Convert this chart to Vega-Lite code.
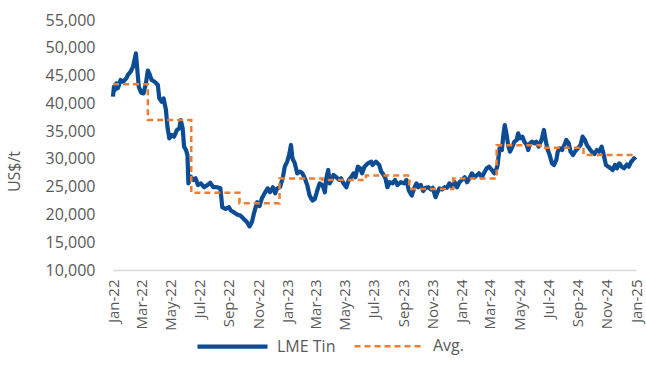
{
  "$schema": "https://vega.github.io/schema/vega-lite/v6.json",
  "autosize": {"type": "none"},
  "padding": {"left": 113, "top": 20, "right": 10, "bottom": 102},
  "width": 523,
  "height": 250,
  "background": "white",
  "config": {
    "view": {"stroke": null},
    "font": "Open Sans",
    "axis": {"labelFont": "Open Sans", "titleFont": "Open Sans", "labelColor": "#595959", "titleColor": "#595959", "labelFontSize": 16, "titleFontSize": 16, "titleFontWeight": "normal", "grid": false, "ticks": false}
  },
  "datasets": {
    "tin": [
      {"date": "2022-01-01", "price": 41200, "series": "LME Tin"},
      {"date": "2022-01-03", "price": 43000, "series": "LME Tin"},
      {"date": "2022-01-05", "price": 42400, "series": "LME Tin"},
      {"date": "2022-01-08", "price": 43600, "series": "LME Tin"},
      {"date": "2022-01-11", "price": 42700, "series": "LME Tin"},
      {"date": "2022-01-17", "price": 44200, "series": "LME Tin"},
      {"date": "2022-01-22", "price": 43900, "series": "LME Tin"},
      {"date": "2022-01-29", "price": 44500, "series": "LME Tin"},
      {"date": "2022-02-01", "price": 45100, "series": "LME Tin"},
      {"date": "2022-02-07", "price": 45700, "series": "LME Tin"},
      {"date": "2022-02-12", "price": 46600, "series": "LME Tin"},
      {"date": "2022-02-15", "price": 47800, "series": "LME Tin"},
      {"date": "2022-02-18", "price": 49000, "series": "LME Tin"},
      {"date": "2022-02-21", "price": 46000, "series": "LME Tin"},
      {"date": "2022-02-24", "price": 43000, "series": "LME Tin"},
      {"date": "2022-03-01", "price": 41900, "series": "LME Tin"},
      {"date": "2022-03-06", "price": 41800, "series": "LME Tin"},
      {"date": "2022-03-11", "price": 43600, "series": "LME Tin"},
      {"date": "2022-03-15", "price": 45900, "series": "LME Tin"},
      {"date": "2022-03-18", "price": 45400, "series": "LME Tin"},
      {"date": "2022-03-23", "price": 44200, "series": "LME Tin"},
      {"date": "2022-03-29", "price": 43900, "series": "LME Tin"},
      {"date": "2022-04-05", "price": 43300, "series": "LME Tin"},
      {"date": "2022-04-08", "price": 40900, "series": "LME Tin"},
      {"date": "2022-04-13", "price": 40300, "series": "LME Tin"},
      {"date": "2022-04-17", "price": 40900, "series": "LME Tin"},
      {"date": "2022-04-22", "price": 38800, "series": "LME Tin"},
      {"date": "2022-04-25", "price": 35800, "series": "LME Tin"},
      {"date": "2022-04-29", "price": 33700, "series": "LME Tin"},
      {"date": "2022-05-04", "price": 34300, "series": "LME Tin"},
      {"date": "2022-05-09", "price": 34000, "series": "LME Tin"},
      {"date": "2022-05-15", "price": 35200, "series": "LME Tin"},
      {"date": "2022-05-20", "price": 35500, "series": "LME Tin"},
      {"date": "2022-05-23", "price": 37000, "series": "LME Tin"},
      {"date": "2022-05-27", "price": 35500, "series": "LME Tin"},
      {"date": "2022-05-30", "price": 32200, "series": "LME Tin"},
      {"date": "2022-06-03", "price": 31600, "series": "LME Tin"},
      {"date": "2022-06-06", "price": 30700, "series": "LME Tin"},
      {"date": "2022-06-08", "price": 25600, "series": "LME Tin"},
      {"date": "2022-06-13", "price": 26800, "series": "LME Tin"},
      {"date": "2022-06-18", "price": 26200, "series": "LME Tin"},
      {"date": "2022-06-23", "price": 26500, "series": "LME Tin"},
      {"date": "2022-06-28", "price": 25300, "series": "LME Tin"},
      {"date": "2022-07-04", "price": 25600, "series": "LME Tin"},
      {"date": "2022-07-11", "price": 24900, "series": "LME Tin"},
      {"date": "2022-07-18", "price": 25300, "series": "LME Tin"},
      {"date": "2022-07-24", "price": 25700, "series": "LME Tin"},
      {"date": "2022-07-30", "price": 24900, "series": "LME Tin"},
      {"date": "2022-08-07", "price": 24900, "series": "LME Tin"},
      {"date": "2022-08-14", "price": 24700, "series": "LME Tin"},
      {"date": "2022-08-18", "price": 21300, "series": "LME Tin"},
      {"date": "2022-08-25", "price": 21000, "series": "LME Tin"},
      {"date": "2022-09-01", "price": 21300, "series": "LME Tin"},
      {"date": "2022-09-05", "price": 20700, "series": "LME Tin"},
      {"date": "2022-09-11", "price": 20400, "series": "LME Tin"},
      {"date": "2022-09-18", "price": 20000, "series": "LME Tin"},
      {"date": "2022-09-25", "price": 19800, "series": "LME Tin"},
      {"date": "2022-10-02", "price": 19200, "series": "LME Tin"},
      {"date": "2022-10-09", "price": 18600, "series": "LME Tin"},
      {"date": "2022-10-14", "price": 17850, "series": "LME Tin"},
      {"date": "2022-10-19", "price": 18600, "series": "LME Tin"},
      {"date": "2022-10-24", "price": 20400, "series": "LME Tin"},
      {"date": "2022-10-30", "price": 22200, "series": "LME Tin"},
      {"date": "2022-11-04", "price": 21500, "series": "LME Tin"},
      {"date": "2022-11-09", "price": 22900, "series": "LME Tin"},
      {"date": "2022-11-16", "price": 24000, "series": "LME Tin"},
      {"date": "2022-11-21", "price": 24700, "series": "LME Tin"},
      {"date": "2022-11-26", "price": 24000, "series": "LME Tin"},
      {"date": "2022-12-02", "price": 24900, "series": "LME Tin"},
      {"date": "2022-12-07", "price": 23800, "series": "LME Tin"},
      {"date": "2022-12-11", "price": 24700, "series": "LME Tin"},
      {"date": "2022-12-17", "price": 24900, "series": "LME Tin"},
      {"date": "2022-12-23", "price": 26700, "series": "LME Tin"},
      {"date": "2022-12-27", "price": 28600, "series": "LME Tin"},
      {"date": "2023-01-01", "price": 29500, "series": "LME Tin"},
      {"date": "2023-01-05", "price": 30700, "series": "LME Tin"},
      {"date": "2023-01-09", "price": 32500, "series": "LME Tin"},
      {"date": "2023-01-12", "price": 30100, "series": "LME Tin"},
      {"date": "2023-01-17", "price": 29200, "series": "LME Tin"},
      {"date": "2023-01-22", "price": 27400, "series": "LME Tin"},
      {"date": "2023-01-28", "price": 27700, "series": "LME Tin"},
      {"date": "2023-02-02", "price": 27400, "series": "LME Tin"},
      {"date": "2023-02-07", "price": 26500, "series": "LME Tin"},
      {"date": "2023-02-12", "price": 25300, "series": "LME Tin"},
      {"date": "2023-02-17", "price": 23400, "series": "LME Tin"},
      {"date": "2023-02-23", "price": 22500, "series": "LME Tin"},
      {"date": "2023-02-28", "price": 22800, "series": "LME Tin"},
      {"date": "2023-03-05", "price": 24300, "series": "LME Tin"},
      {"date": "2023-03-10", "price": 25600, "series": "LME Tin"},
      {"date": "2023-03-16", "price": 25300, "series": "LME Tin"},
      {"date": "2023-03-21", "price": 24000, "series": "LME Tin"},
      {"date": "2023-03-24", "price": 26500, "series": "LME Tin"},
      {"date": "2023-03-28", "price": 28000, "series": "LME Tin"},
      {"date": "2023-03-31", "price": 25600, "series": "LME Tin"},
      {"date": "2023-04-04", "price": 26200, "series": "LME Tin"},
      {"date": "2023-04-08", "price": 27100, "series": "LME Tin"},
      {"date": "2023-04-14", "price": 26700, "series": "LME Tin"},
      {"date": "2023-04-20", "price": 26200, "series": "LME Tin"},
      {"date": "2023-04-24", "price": 26500, "series": "LME Tin"},
      {"date": "2023-04-29", "price": 25600, "series": "LME Tin"},
      {"date": "2023-05-05", "price": 24900, "series": "LME Tin"},
      {"date": "2023-05-10", "price": 26200, "series": "LME Tin"},
      {"date": "2023-05-15", "price": 26700, "series": "LME Tin"},
      {"date": "2023-05-20", "price": 27400, "series": "LME Tin"},
      {"date": "2023-05-24", "price": 26700, "series": "LME Tin"},
      {"date": "2023-05-29", "price": 28600, "series": "LME Tin"},
      {"date": "2023-06-03", "price": 28300, "series": "LME Tin"},
      {"date": "2023-06-07", "price": 27400, "series": "LME Tin"},
      {"date": "2023-06-12", "price": 28600, "series": "LME Tin"},
      {"date": "2023-06-19", "price": 29200, "series": "LME Tin"},
      {"date": "2023-06-26", "price": 29500, "series": "LME Tin"},
      {"date": "2023-06-29", "price": 28900, "series": "LME Tin"},
      {"date": "2023-07-06", "price": 29500, "series": "LME Tin"},
      {"date": "2023-07-13", "price": 28900, "series": "LME Tin"},
      {"date": "2023-07-17", "price": 27700, "series": "LME Tin"},
      {"date": "2023-07-20", "price": 27400, "series": "LME Tin"},
      {"date": "2023-07-26", "price": 26500, "series": "LME Tin"},
      {"date": "2023-07-30", "price": 24900, "series": "LME Tin"},
      {"date": "2023-08-04", "price": 25800, "series": "LME Tin"},
      {"date": "2023-08-10", "price": 25600, "series": "LME Tin"},
      {"date": "2023-08-15", "price": 26200, "series": "LME Tin"},
      {"date": "2023-08-20", "price": 25300, "series": "LME Tin"},
      {"date": "2023-08-27", "price": 25800, "series": "LME Tin"},
      {"date": "2023-09-03", "price": 25600, "series": "LME Tin"},
      {"date": "2023-09-08", "price": 26200, "series": "LME Tin"},
      {"date": "2023-09-13", "price": 24300, "series": "LME Tin"},
      {"date": "2023-09-19", "price": 23400, "series": "LME Tin"},
      {"date": "2023-09-24", "price": 24700, "series": "LME Tin"},
      {"date": "2023-09-29", "price": 25600, "series": "LME Tin"},
      {"date": "2023-10-03", "price": 24900, "series": "LME Tin"},
      {"date": "2023-10-08", "price": 25300, "series": "LME Tin"},
      {"date": "2023-10-13", "price": 24200, "series": "LME Tin"},
      {"date": "2023-10-18", "price": 24800, "series": "LME Tin"},
      {"date": "2023-10-24", "price": 24900, "series": "LME Tin"},
      {"date": "2023-10-29", "price": 24500, "series": "LME Tin"},
      {"date": "2023-11-02", "price": 24800, "series": "LME Tin"},
      {"date": "2023-11-08", "price": 23100, "series": "LME Tin"},
      {"date": "2023-11-11", "price": 23800, "series": "LME Tin"},
      {"date": "2023-11-16", "price": 24700, "series": "LME Tin"},
      {"date": "2023-11-22", "price": 24500, "series": "LME Tin"},
      {"date": "2023-11-27", "price": 24900, "series": "LME Tin"},
      {"date": "2023-12-02", "price": 24800, "series": "LME Tin"},
      {"date": "2023-12-07", "price": 25600, "series": "LME Tin"},
      {"date": "2023-12-13", "price": 24900, "series": "LME Tin"},
      {"date": "2023-12-18", "price": 25800, "series": "LME Tin"},
      {"date": "2023-12-23", "price": 24900, "series": "LME Tin"},
      {"date": "2023-12-28", "price": 25800, "series": "LME Tin"},
      {"date": "2024-01-02", "price": 26200, "series": "LME Tin"},
      {"date": "2024-01-08", "price": 26700, "series": "LME Tin"},
      {"date": "2024-01-13", "price": 25800, "series": "LME Tin"},
      {"date": "2024-01-18", "price": 26500, "series": "LME Tin"},
      {"date": "2024-01-23", "price": 27400, "series": "LME Tin"},
      {"date": "2024-01-29", "price": 26700, "series": "LME Tin"},
      {"date": "2024-02-03", "price": 27100, "series": "LME Tin"},
      {"date": "2024-02-07", "price": 27400, "series": "LME Tin"},
      {"date": "2024-02-13", "price": 26700, "series": "LME Tin"},
      {"date": "2024-02-19", "price": 27700, "series": "LME Tin"},
      {"date": "2024-02-23", "price": 28300, "series": "LME Tin"},
      {"date": "2024-02-28", "price": 28600, "series": "LME Tin"},
      {"date": "2024-03-05", "price": 28000, "series": "LME Tin"},
      {"date": "2024-03-10", "price": 27400, "series": "LME Tin"},
      {"date": "2024-03-15", "price": 28300, "series": "LME Tin"},
      {"date": "2024-03-17", "price": 28900, "series": "LME Tin"},
      {"date": "2024-03-21", "price": 31900, "series": "LME Tin"},
      {"date": "2024-03-26", "price": 31600, "series": "LME Tin"},
      {"date": "2024-03-29", "price": 34300, "series": "LME Tin"},
      {"date": "2024-04-01", "price": 36100, "series": "LME Tin"},
      {"date": "2024-04-05", "price": 34300, "series": "LME Tin"},
      {"date": "2024-04-08", "price": 32500, "series": "LME Tin"},
      {"date": "2024-04-12", "price": 31300, "series": "LME Tin"},
      {"date": "2024-04-17", "price": 32200, "series": "LME Tin"},
      {"date": "2024-04-21", "price": 33100, "series": "LME Tin"},
      {"date": "2024-04-26", "price": 33400, "series": "LME Tin"},
      {"date": "2024-04-29", "price": 34600, "series": "LME Tin"},
      {"date": "2024-05-03", "price": 33700, "series": "LME Tin"},
      {"date": "2024-05-08", "price": 34000, "series": "LME Tin"},
      {"date": "2024-05-12", "price": 33100, "series": "LME Tin"},
      {"date": "2024-05-17", "price": 32500, "series": "LME Tin"},
      {"date": "2024-05-20", "price": 31600, "series": "LME Tin"},
      {"date": "2024-05-24", "price": 32800, "series": "LME Tin"},
      {"date": "2024-05-28", "price": 33100, "series": "LME Tin"},
      {"date": "2024-06-02", "price": 32800, "series": "LME Tin"},
      {"date": "2024-06-06", "price": 33100, "series": "LME Tin"},
      {"date": "2024-06-11", "price": 32200, "series": "LME Tin"},
      {"date": "2024-06-17", "price": 33400, "series": "LME Tin"},
      {"date": "2024-06-22", "price": 35200, "series": "LME Tin"},
      {"date": "2024-06-25", "price": 33700, "series": "LME Tin"},
      {"date": "2024-06-29", "price": 31900, "series": "LME Tin"},
      {"date": "2024-07-04", "price": 30700, "series": "LME Tin"},
      {"date": "2024-07-09", "price": 29200, "series": "LME Tin"},
      {"date": "2024-07-13", "price": 28900, "series": "LME Tin"},
      {"date": "2024-07-18", "price": 29800, "series": "LME Tin"},
      {"date": "2024-07-21", "price": 31300, "series": "LME Tin"},
      {"date": "2024-07-25", "price": 31900, "series": "LME Tin"},
      {"date": "2024-07-30", "price": 31600, "series": "LME Tin"},
      {"date": "2024-08-04", "price": 32500, "series": "LME Tin"},
      {"date": "2024-08-08", "price": 33400, "series": "LME Tin"},
      {"date": "2024-08-13", "price": 32800, "series": "LME Tin"},
      {"date": "2024-08-17", "price": 31300, "series": "LME Tin"},
      {"date": "2024-08-22", "price": 30700, "series": "LME Tin"},
      {"date": "2024-08-26", "price": 31300, "series": "LME Tin"},
      {"date": "2024-09-01", "price": 31900, "series": "LME Tin"},
      {"date": "2024-09-07", "price": 32500, "series": "LME Tin"},
      {"date": "2024-09-11", "price": 34000, "series": "LME Tin"},
      {"date": "2024-09-16", "price": 33400, "series": "LME Tin"},
      {"date": "2024-09-20", "price": 32500, "series": "LME Tin"},
      {"date": "2024-09-25", "price": 31900, "series": "LME Tin"},
      {"date": "2024-09-30", "price": 31300, "series": "LME Tin"},
      {"date": "2024-10-06", "price": 30900, "series": "LME Tin"},
      {"date": "2024-10-11", "price": 31600, "series": "LME Tin"},
      {"date": "2024-10-16", "price": 31300, "series": "LME Tin"},
      {"date": "2024-10-21", "price": 32200, "series": "LME Tin"},
      {"date": "2024-10-25", "price": 30900, "series": "LME Tin"},
      {"date": "2024-10-30", "price": 28900, "series": "LME Tin"},
      {"date": "2024-11-04", "price": 28600, "series": "LME Tin"},
      {"date": "2024-11-09", "price": 28300, "series": "LME Tin"},
      {"date": "2024-11-13", "price": 28000, "series": "LME Tin"},
      {"date": "2024-11-18", "price": 28900, "series": "LME Tin"},
      {"date": "2024-11-22", "price": 28300, "series": "LME Tin"},
      {"date": "2024-11-27", "price": 29200, "series": "LME Tin"},
      {"date": "2024-12-02", "price": 28600, "series": "LME Tin"},
      {"date": "2024-12-07", "price": 28300, "series": "LME Tin"},
      {"date": "2024-12-13", "price": 29000, "series": "LME Tin"},
      {"date": "2024-12-17", "price": 28600, "series": "LME Tin"},
      {"date": "2024-12-22", "price": 29500, "series": "LME Tin"},
      {"date": "2024-12-28", "price": 30100, "series": "LME Tin"},
      {"date": "2024-12-31", "price": 29800, "series": "LME Tin"}
    ],
    "avg": [
      {"date": "2022-01-01", "price": 43450, "series": "Avg."},
      {"date": "2022-03-15", "price": 37000, "series": "Avg."},
      {"date": "2022-06-14", "price": 23900, "series": "Avg."},
      {"date": "2022-09-23", "price": 22000, "series": "Avg."},
      {"date": "2022-12-16", "price": 26450, "series": "Avg."},
      {"date": "2023-03-16", "price": 26200, "series": "Avg."},
      {"date": "2023-06-15", "price": 27000, "series": "Avg."},
      {"date": "2023-09-14", "price": 24600, "series": "Avg."},
      {"date": "2023-12-15", "price": 26450, "series": "Avg."},
      {"date": "2024-03-15", "price": 32450, "series": "Avg."},
      {"date": "2024-06-15", "price": 32000, "series": "Avg."},
      {"date": "2024-09-13", "price": 30700, "series": "Avg."},
      {"date": "2024-12-31", "price": 30700, "series": "Avg."}
    ]
  },
  "encoding": {
    "x": {
      "field": "date",
      "type": "temporal",
      "scale": {"type": "utc", "domain": [{"year": 2022, "month": 1, "date": 1, "utc": true}, {"year": 2025, "month": 1, "date": 1, "utc": true}], "nice": false},
      "axis": {
        "title": null,
        "format": "%b-%y",
        "tickCount": {"interval": "month", "step": 2},
        "labelAngle": -90,
        "labelPadding": 9,
        "labelFontSize": 15,
        "labelOverlap": false,
        "labelFlush": false,
        "domainColor": "#D9D9D9",
        "domainWidth": 1.5
      }
    },
    "y": {
      "field": "price",
      "type": "quantitative",
      "scale": {"domain": [10000, 55000], "nice": false, "zero": false},
      "axis": {
        "title": "US$/t",
        "values": [10000, 15000, 20000, 25000, 30000, 35000, 40000, 45000, 50000, 55000],
        "format": ",.0f",
        "domain": false,
        "labelPadding": 18,
        "titleX": -99,
        "titleY": 151,
        "titleAngle": -90,
        "titleAlign": "center",
        "titleBaseline": "middle"
      }
    },
    "color": {
      "field": "series",
      "type": "nominal",
      "scale": {"domain": ["LME Tin", "Avg."], "range": ["#0B4C94", "#ED7D31"]},
      "legend": {
        "title": null,
        "orient": "none",
        "direction": "horizontal",
        "legendX": 82,
        "legendY": 289,
        "padding": 0,
        "symbolType": "stroke",
        "symbolSize": 4900,
        "labelFont": "Open Sans",
        "labelFontSize": 16,
        "labelColor": "#595959",
        "labelOffset": 7,
        "columnPadding": 13
      }
    },
    "strokeDash": {
      "field": "series",
      "type": "nominal",
      "scale": {"domain": ["LME Tin", "Avg."], "range": [[1, 0], [6, 4]]}
    },
    "strokeWidth": {
      "field": "series",
      "type": "nominal",
      "scale": {"domain": ["LME Tin", "Avg."], "range": [4.2, 2.5]}
    }
  },
  "layer": [
    {
      "data": {"name": "tin"},
      "mark": {"type": "line", "strokeJoin": "round"}
    },
    {
      "data": {"name": "avg"},
      "mark": {"type": "line", "interpolate": "step-after"}
    }
  ]
}
